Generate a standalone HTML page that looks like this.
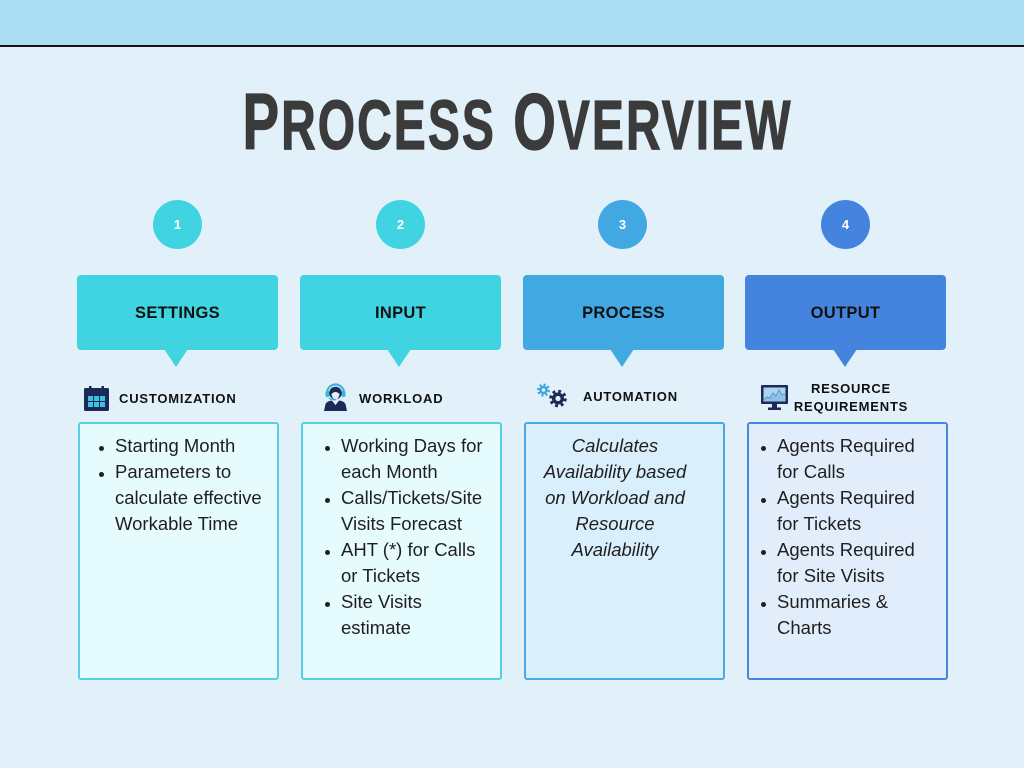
<!DOCTYPE html>
<html>
<head>
<meta charset="utf-8">
<style>
  html,body{margin:0;padding:0;}
  body{width:1024px;height:768px;position:relative;overflow:hidden;background:#e2f1f9;font-family:"Liberation Sans",sans-serif;}
  .abs{position:absolute;}
  .topbar{left:0;top:0;width:1024px;height:45px;background:#aadcf2;}
  .topline{left:0;top:45px;width:1024px;height:2px;background:#151515;}
  .title{left:5px;top:82px;width:1024px;text-align:center;font-weight:bold;font-size:80px;line-height:80px;color:#3b3b3b;white-space:nowrap;}
  .title span.t{display:inline-block;transform:scaleX(0.685);transform-origin:center;letter-spacing:3px;-webkit-text-stroke:1.2px #3b3b3b;}
  .title small{font-size:70px;}
  .circ{width:49px;height:49px;border-radius:50%;color:#fff;font-weight:bold;font-size:13px;line-height:49px;text-align:center;top:200px;}
  .hdr{top:275px;width:201px;height:75px;border-radius:4px;}
  .hdr div{position:absolute;left:0;top:28px;width:100%;text-align:center;font-weight:bold;font-size:16.5px;line-height:20px;color:#111;letter-spacing:0.3px;}
  .tri{top:349px;width:0;height:0;border-left:12.5px solid transparent;border-right:12.5px solid transparent;border-top:18px solid #000;}
  .sub{font-weight:bold;font-size:13px;line-height:18px;letter-spacing:0.8px;color:#111;white-space:nowrap;}
  .box{top:422px;width:201px;height:258px;box-sizing:border-box;border:2px solid;border-radius:3px;}
  .txt{font-size:18.5px;line-height:26px;color:#1f1f1f;white-space:nowrap;top:433px;}
  .txt div{position:relative;}
  .dot{position:absolute;width:5px;height:5px;border-radius:50%;background:#1f1f1f;top:13px;}
</style>
</head>
<body>
  <div class="abs topbar"></div>
  <div class="abs topline"></div>

  <div class="abs title"><span class="t">P<small>ROCESS</small> O<small>VERVIEW</small></span></div>

  <!-- circles -->
  <div class="abs circ" style="left:153px;background:#40d3e1;">1</div>
  <div class="abs circ" style="left:376px;background:#40d3e1;">2</div>
  <div class="abs circ" style="left:598px;background:#42a8e1;">3</div>
  <div class="abs circ" style="left:821px;background:#4483de;">4</div>

  <!-- header boxes -->
  <div class="abs hdr" style="left:77px;background:#40d3e1;"><div>SETTINGS</div></div>
  <div class="abs hdr" style="left:300px;background:#40d3e1;"><div>INPUT</div></div>
  <div class="abs hdr" style="left:523px;background:#42a8e1;"><div>PROCESS</div></div>
  <div class="abs hdr" style="left:745px;background:#4483de;"><div>OUTPUT</div></div>

  <div class="abs tri" style="left:164px;border-top-color:#40d3e1;"></div>
  <div class="abs tri" style="left:387px;border-top-color:#40d3e1;"></div>
  <div class="abs tri" style="left:610px;border-top-color:#42a8e1;"></div>
  <div class="abs tri" style="left:833px;border-top-color:#4483de;"></div>

  <!-- icons -->
  <svg class="abs" style="left:84px;top:386px;" width="25" height="25" viewBox="0 0 25 25">
    <rect x="0" y="2" width="25" height="23" rx="1.5" fill="#1c2a58"/>
    <rect x="5" y="0" width="2.5" height="5" fill="#1c2a58"/>
    <rect x="17.5" y="0" width="2.5" height="5" fill="#1c2a58"/>
    <rect x="2.5" y="8" width="20" height="14.5" fill="#1c2a58"/>
    <rect x="4" y="10" width="5" height="5" fill="#3cc2e2"/>
    <rect x="10" y="10" width="5" height="5" fill="#3cc2e2"/>
    <rect x="16" y="10" width="5" height="5" fill="#3cc2e2"/>
    <rect x="4" y="16" width="5" height="5" fill="#3cc2e2"/>
    <rect x="10" y="16" width="5" height="5" fill="#3cc2e2"/>
    <rect x="16" y="16" width="5" height="5" fill="#3cc2e2"/>
  </svg>

  <svg class="abs" style="left:323px;top:381px;" width="25" height="30" viewBox="0 0 25 30">
    <path d="M4 12 A8.5 8.5 0 0 1 21 12" fill="none" stroke="#36b9d8" stroke-width="2.2"/>
    <rect x="2.5" y="10" width="4" height="6" rx="1.5" fill="#36b9d8"/>
    <rect x="18.5" y="10" width="4" height="6" rx="1.5" fill="#36b9d8"/>
    <circle cx="12.5" cy="12" r="6.3" fill="#1c2a58"/>
    <path d="M8.5 13 Q12.5 9 16.5 13 Q16 18 12.5 18.5 Q9 18 8.5 13Z" fill="#e2f1f9"/>
    <path d="M6 17 Q8 19 13 18.5" fill="none" stroke="#36b9d8" stroke-width="1.5"/>
    <path d="M1 30 L2.5 23 Q4 20 9 19.5 L12.5 24 L16 19.5 Q21 20 22.5 23 L24 30 Z" fill="#1c2a58"/>
    <path d="M9 19.5 L12.5 24 L16 19.5 Z" fill="#e2f1f9"/>
  </svg>

  <svg class="abs" style="left:535px;top:382px;" width="34" height="28" viewBox="0 0 34 28">
    <g transform="translate(8.5,8)">
      <circle r="5" fill="none" stroke="#3ea7e0" stroke-width="3" stroke-dasharray="2 1.9"/>
      <circle r="4.2" fill="#3ea7e0"/>
      <circle r="1.8" fill="#e2f1f9"/>
    </g>
    <g transform="translate(23,16.5)">
      <circle r="7" fill="none" stroke="#1c2a58" stroke-width="3.6" stroke-dasharray="2.7 2.8"/>
      <circle r="6" fill="#1c2a58"/>
      <circle r="2.6" fill="#e2f1f9"/>
    </g>
  </svg>

  <svg class="abs" style="left:761px;top:385px;" width="27" height="26" viewBox="0 0 27 26">
    <rect x="0" y="0" width="27" height="19" rx="1" fill="#1c2a58"/>
    <rect x="2.5" y="2.5" width="22" height="14" fill="#a9d5f0"/>
    <polyline points="3,15 6,12 9,13 12,8 15,11 18,5 21,10 24,9" fill="none" stroke="#5a8fc8" stroke-width="1"/>
    <path d="M3,16.5 L6,12.5 L9,13.5 L12,8.5 L15,11.5 L18,5.5 L21,10.5 L24,9.5 L24,16.5 Z" fill="#7fb4e0" opacity="0.6"/>
    <rect x="11" y="19" width="5" height="3.5" fill="#1c2a58"/>
    <rect x="7" y="22.5" width="13" height="2.5" fill="#1c2a58"/>
  </svg>

  <!-- sub headers -->
  <div class="abs sub" style="left:119px;top:390px;">CUSTOMIZATION</div>
  <div class="abs sub" style="left:359px;top:390px;">WORKLOAD</div>
  <div class="abs sub" style="left:583px;top:388px;">AUTOMATION</div>
  <div class="abs sub" style="left:771px;top:380px;width:160px;text-align:center;">RESOURCE<br>REQUIREMENTS</div>

  <!-- content boxes -->
  <div class="abs box" style="left:78px;background:#e6fbfe;border-color:#55d1e1;"></div>
  <div class="abs box" style="left:301px;background:#e6fbfe;border-color:#55d1e1;"></div>
  <div class="abs box" style="left:524px;background:#d9effb;border-color:#4ba9e1;"></div>
  <div class="abs box" style="left:747px;background:#e2edfb;border-color:#4885dd;"></div>

  <div class="abs txt" style="left:115px;">
    <div><span class="dot" style="left:-16px;"></span>Starting Month</div>
    <div><span class="dot" style="left:-16px;"></span>Parameters to</div>
    <div>calculate effective</div>
    <div>Workable Time</div>
  </div>

  <div class="abs txt" style="left:341px;">
    <div><span class="dot" style="left:-16px;"></span>Working Days for</div>
    <div>each Month</div>
    <div><span class="dot" style="left:-16px;"></span>Calls/Tickets/Site</div>
    <div>Visits Forecast</div>
    <div><span class="dot" style="left:-16px;"></span>AHT (*) for Calls</div>
    <div>or Tickets</div>
    <div><span class="dot" style="left:-16px;"></span>Site Visits</div>
    <div>estimate</div>
  </div>

  <div class="abs txt" style="left:535px;width:160px;text-align:center;font-style:italic;">
    <div>Calculates</div>
    <div>Availability based</div>
    <div>on Workload and</div>
    <div>Resource</div>
    <div>Availability</div>
  </div>

  <div class="abs txt" style="left:777px;">
    <div><span class="dot" style="left:-16px;"></span>Agents Required</div>
    <div>for Calls</div>
    <div><span class="dot" style="left:-16px;"></span>Agents Required</div>
    <div>for Tickets</div>
    <div><span class="dot" style="left:-16px;"></span>Agents Required</div>
    <div>for Site Visits</div>
    <div><span class="dot" style="left:-16px;"></span>Summaries &amp;</div>
    <div>Charts</div>
  </div>
</body>
</html>
